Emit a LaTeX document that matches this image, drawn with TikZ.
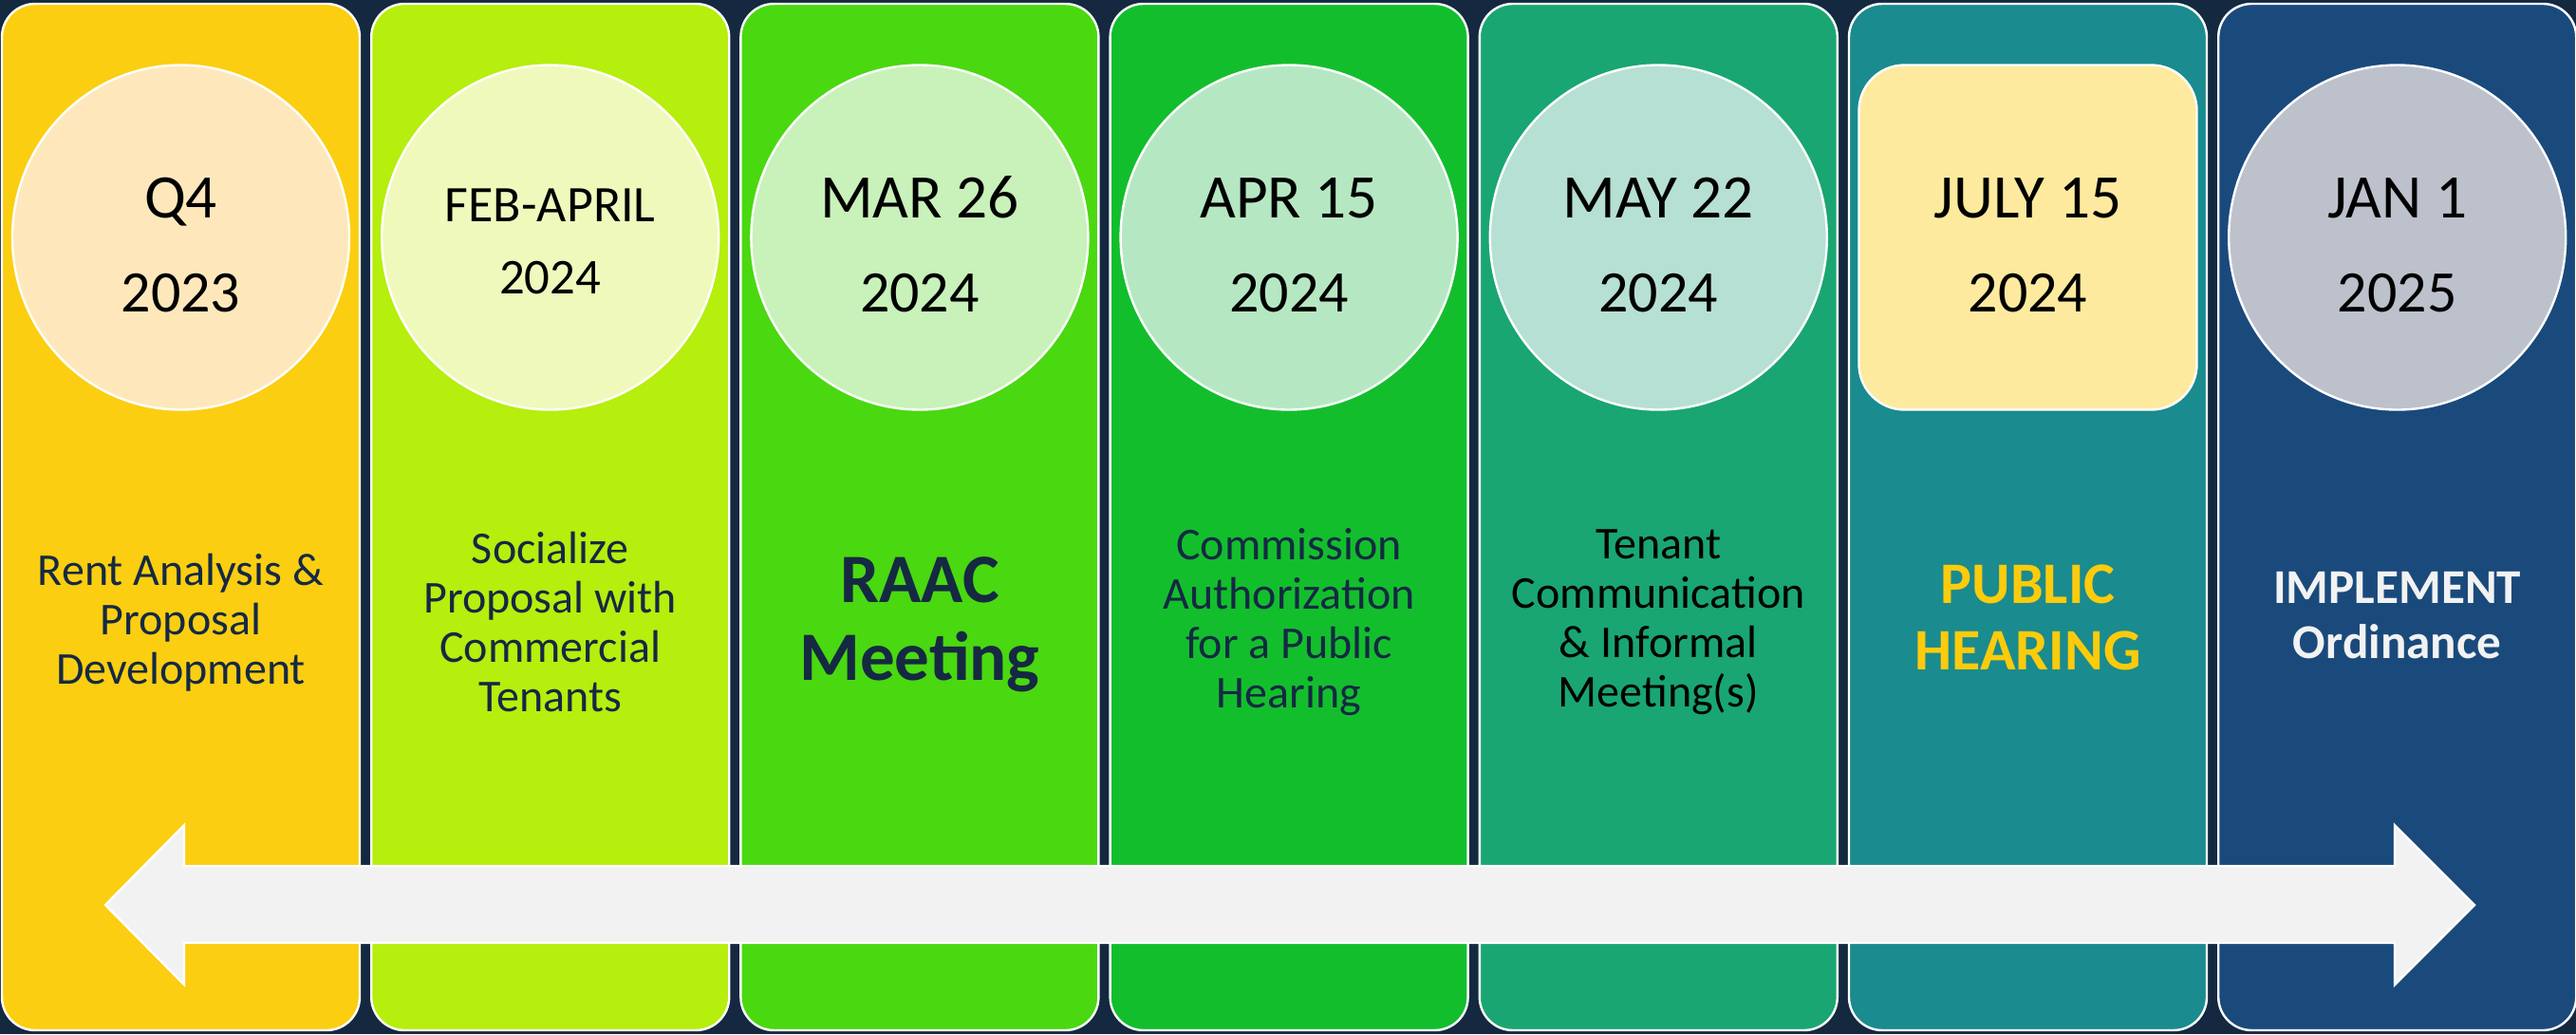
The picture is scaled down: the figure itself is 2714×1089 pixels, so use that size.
\documentclass[tikz,border=0pt]{standalone}
\usepackage{fontspec}
\setmainfont{Carlito}
\usetikzlibrary{shapes}
\definecolor{bgnavy}{RGB}{20,40,64}
\definecolor{navytext}{RGB}{21,41,67}
\definecolor{pa}{RGB}{251,206,17}
\definecolor{pb}{RGB}{182,238,13}
\definecolor{pc}{RGB}{74,216,16}
\definecolor{pd}{RGB}{19,190,45}
\definecolor{pe}{RGB}{25,166,114}
\definecolor{pf}{RGB}{26,139,142}
\definecolor{pg}{RGB}{26,74,124}
\definecolor{ca}{RGB}{254,232,187}
\definecolor{cb}{RGB}{239,249,188}
\definecolor{cc}{RGB}{201,241,186}
\definecolor{cd}{RGB}{181,232,194}
\definecolor{ce}{RGB}{182,224,211}
\definecolor{cf}{RGB}{254,234,158}
\definecolor{cg}{RGB}{189,193,204}
\definecolor{arrowgray}{RGB}{242,242,242}
\definecolor{hearing}{RGB}{252,203,11}
\tikzstyle{panel} = [draw=white, line width=1.2pt, rectangle,
    rounded corners=17.5pt, minimum width=188.5pt,
    minimum height=540.5pt, inner sep=0pt]
\tikzstyle{stamp} = [draw=white, line width=1.2pt, ellipse,
    minimum width=177.5pt, minimum height=181.5pt, inner sep=0pt]
\tikzstyle{datetxt} = [anchor=base, inner sep=0pt,
    font=\fontsize{32.6}{36}\selectfont]
\tikzstyle{yeartxt} = [anchor=base, inner sep=0pt,
    font=\fontsize{31}{36}\selectfont]
\tikzstyle{task} = [align=center, inner sep=0pt, text=navytext,
    font=\fontsize{24}{26}\selectfont]

\begin{document}
\begin{tikzpicture}[x=0.5pt, y=-0.5pt, node distance=194.6pt]
    \fill [bgnavy] (0,0) rectangle (2714,1089);
    \useasboundingbox (0,0) rectangle (2714,1089);
    % We start by placing the panels
    \node [panel, fill=pa] (p1) at (190.5,544.5) {};
    \node [panel, fill=pb, right of=p1] (p2) {};
    \node [panel, fill=pc, right of=p2] (p3) {};
    \node [panel, fill=pd, right of=p3] (p4) {};
    \node [panel, fill=pe, right of=p4] (p5) {};
    \node [panel, fill=pf, right of=p5] (p6) {};
    \node [panel, fill=pg, right of=p6] (p7) {};

    % The date stamps at the top of each panel
    \node [stamp, fill=ca] (c1) at (190.5,250) {};
    \node [stamp, fill=cb] (c2) at (579.7,250) {};
    \node [stamp, fill=cc] (c3) at (968.9,250) {};
    \node [stamp, fill=cd] (c4) at (1358.1,250) {};
    \node [stamp, fill=ce] (c5) at (1747.3,250) {};
    \node [draw=white, line width=1.2pt, rectangle, rounded corners=24pt,
        minimum width=178pt, minimum height=181.5pt,
        fill=cf] (c6) at (2136.5,250) {};
    \node [stamp, fill=cg] (c7) at (2525.7,250) {};

    \node [datetxt] (d1) at (190.5,229) {Q4};
    \node [yeartxt] (y1) at (190.5,328) {2023};
    \node [datetxt, font=\fontsize{27}{30}\selectfont] (d2) at (579.7,233) {FEB-APRIL};
    \node [yeartxt, font=\fontsize{26.4}{30}\selectfont] (y2) at (579.7,309) {2024};
    \node [datetxt] (d3) at (968.9,229) {MAR 26};
    \node [yeartxt] (y3) at (968.9,328) {2024};
    \node [datetxt] (d4) at (1358.1,229) {APR 15};
    \node [yeartxt] (y4) at (1358.1,328) {2024};
    \node [datetxt] (d5) at (1747.3,229) {MAY 22};
    \node [yeartxt] (y5) at (1747.3,328) {2024};
    \node [datetxt] (d6) at (2136.5,229) {JULY 15};
    \node [yeartxt] (y6) at (2136.5,328) {2024};
    \node [datetxt] (d7) at (2525.7,229) {JAN 1};
    \node [yeartxt] (y7) at (2525.7,328) {2025};

    % What happens at each step
    \node [task] (t1) at (190.5,656) {Rent Analysis \&\\Proposal\\Development};
    \node [task] (t2) at (579.7,655) {Socialize\\Proposal with\\Commercial\\Tenants};
    \node [task, font=\bfseries\fontsize{36.5}{41}\selectfont] (t3) at (968.9,658)
        {RAAC\\Meeting};
    \node [task] (t4) at (1358.1,655) {Commission\\Authorization\\for a Public\\Hearing};
    \node [task, text=black] (t5) at (1747.3,655) {Tenant\\Communication\\\& Informal\\Meeting(s)};
    \node [task, text=hearing, font=\bfseries\fontsize{31}{35}\selectfont] (t6)
        at (2136.5,650) {PUBLIC\\HEARING};
    \node [task, text=arrowgray, font=\bfseries\fontsize{25.6}{29}\selectfont] (t7)
        at (2525.7,648) {IMPLEMENT\\Ordinance};

    % The time line runs across all the panels
    \draw [draw=white, line width=1.2pt, fill=arrowgray]
        (111,953) -- (194,869) -- (194,912) -- (2523,912) -- (2523,869)
        -- (2607,953) -- (2523,1037) -- (2523,993) -- (194,993)
        -- (194,1037) -- cycle;
\end{tikzpicture}
\end{document}
